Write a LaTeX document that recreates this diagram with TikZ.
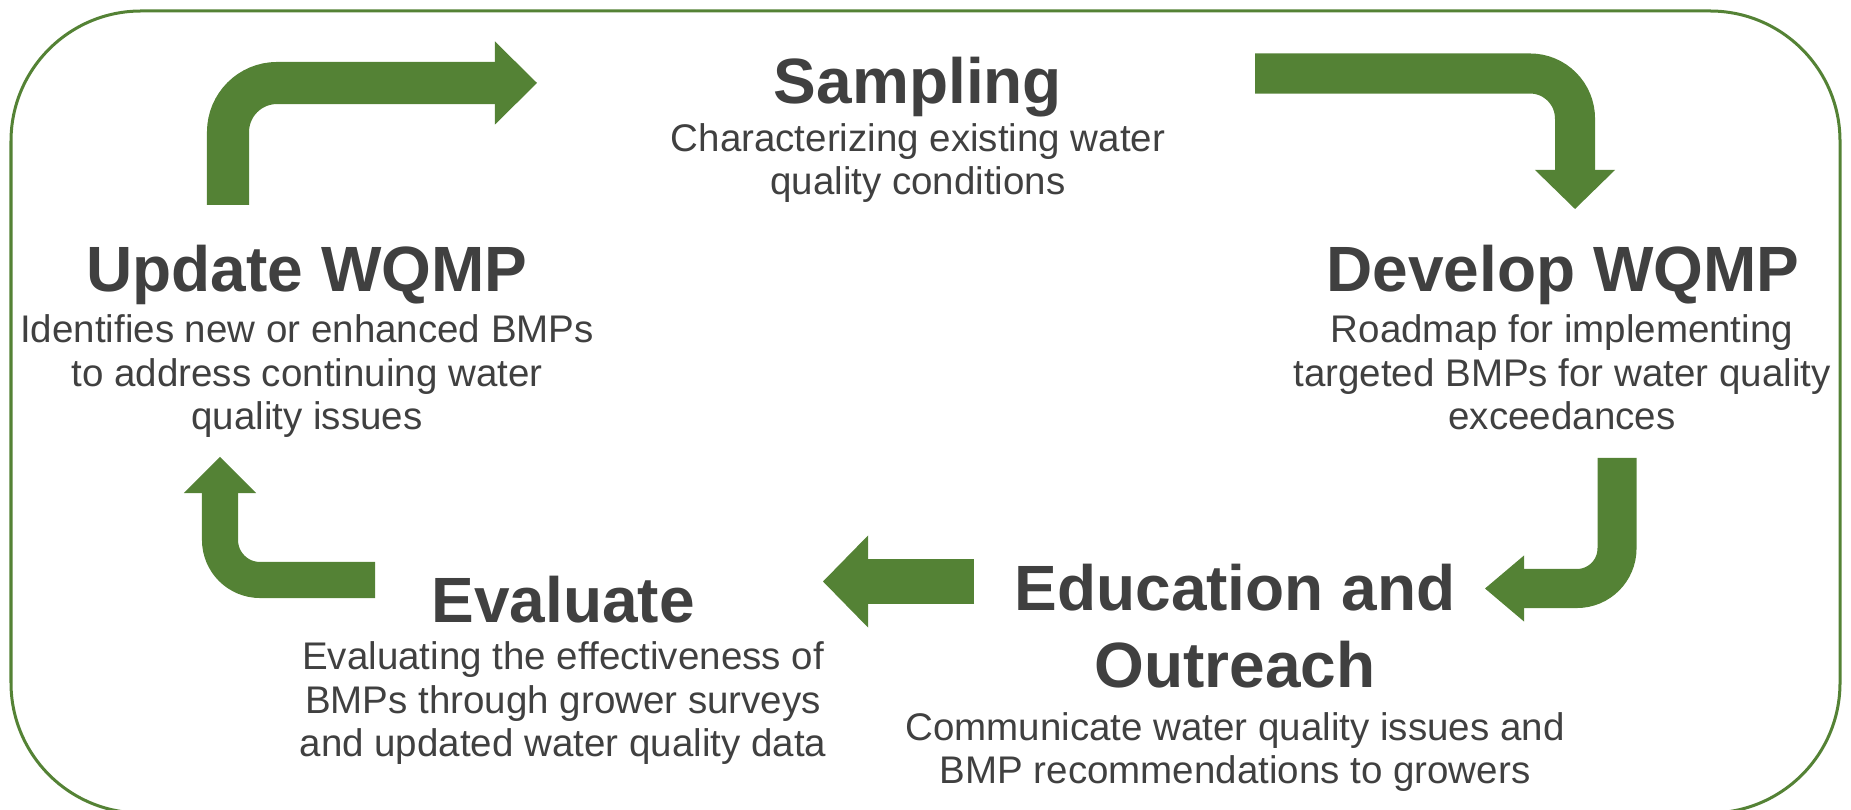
\documentclass[tikz,border=0pt]{standalone}
\usepackage{fontspec}
\setmainfont{Liberation Sans}
\usepackage{xcolor}
\usetikzlibrary{arrows.meta,positioning}
\definecolor{leaf}{RGB}{84,130,53}
\definecolor{ink}{RGB}{64,64,64}

\begin{document}
\begin{tikzpicture}[x=0.01cm,y=-0.01cm,
  ttl/.style={anchor=base,text=ink,align=center,inner sep=0pt,font=\fontsize{18.2}{21.9}\selectfont\bfseries},
  txt/.style={anchor=base,text=ink,align=center,inner sep=0pt,font=\fontsize{10.95}{12.5}\selectfont},
  bend/.style={draw=leaf,line width=#1}]
      \useasboundingbox (0,0) rectangle (1851,810);
      \draw[leaf,line width=0.03cm,rounded corners=1.3cm] (11,11) rectangle (1840,813);

      \node[ttl] (samp) at (918,104) {Sampling};
      \node[txt] (sampd) at (918,195) {Characterizing existing water\\quality conditions};
      \node[ttl] (upd) at (307,292) {Update WQMP};
      \node[txt] (updd) at (307,430) {Identifies new or enhanced BMPs\\to address continuing water\\quality issues};
      \node[ttl] (dev) at (1563,292) {Develop WQMP};
      \node[txt] (devd) at (1562,430) {Roadmap for implementing\\targeted BMPs for water quality\\exceedances};
      \node[ttl] (eval) at (563,623) {Evaluate};
      \node[txt] (evald) at (563,757) {Evaluating the effectiveness of\\BMPs through grower surveys\\and updated water quality data};
      \node[ttl] (edu) at (1235,688) {Education and\\Outreach};
      \node[txt] (edud) at (1235,784) {Communicate water quality issues and\\BMP recommendations to growers};

      \coordinate (a1) at (228,205);   \coordinate (b1) at (537,83);
      \coordinate (a2) at (1255,73.5); \coordinate (b2) at (1575,209);
      \coordinate (a3) at (1617,458);  \coordinate (b3) at (1485,588.5);
      \coordinate (a4) at (974,581.5); \coordinate (b4) at (823,581.5);
      \coordinate (a5) at (375,580);   \coordinate (b5) at (220,457);

      \draw[bend=0.42cm,rounded corners=0.49cm,-{Triangle[length=0.42cm,width=0.83cm,line width=0pt,fill=leaf]}] (a1) |- (b1);
      \draw[bend=0.40cm,rounded corners=0.45cm,-{Triangle[length=0.39cm,width=0.80cm,line width=0pt,fill=leaf]}] (a2) -| (b2);
      \draw[bend=0.39cm,rounded corners=0.40cm,-{Triangle[length=0.39cm,width=0.66cm,line width=0pt,fill=leaf]}] (a3) |- (b3);
      \draw[bend=0.45cm,-{Triangle[length=0.45cm,width=0.92cm,line width=0pt,fill=leaf]}] (a4) -- (b4);
      \draw[bend=0.36cm,rounded corners=0.40cm,-{Triangle[length=0.36cm,width=0.72cm,line width=0pt,fill=leaf]}] (a5) -| (b5);
     \end{tikzpicture}
\end{document}
